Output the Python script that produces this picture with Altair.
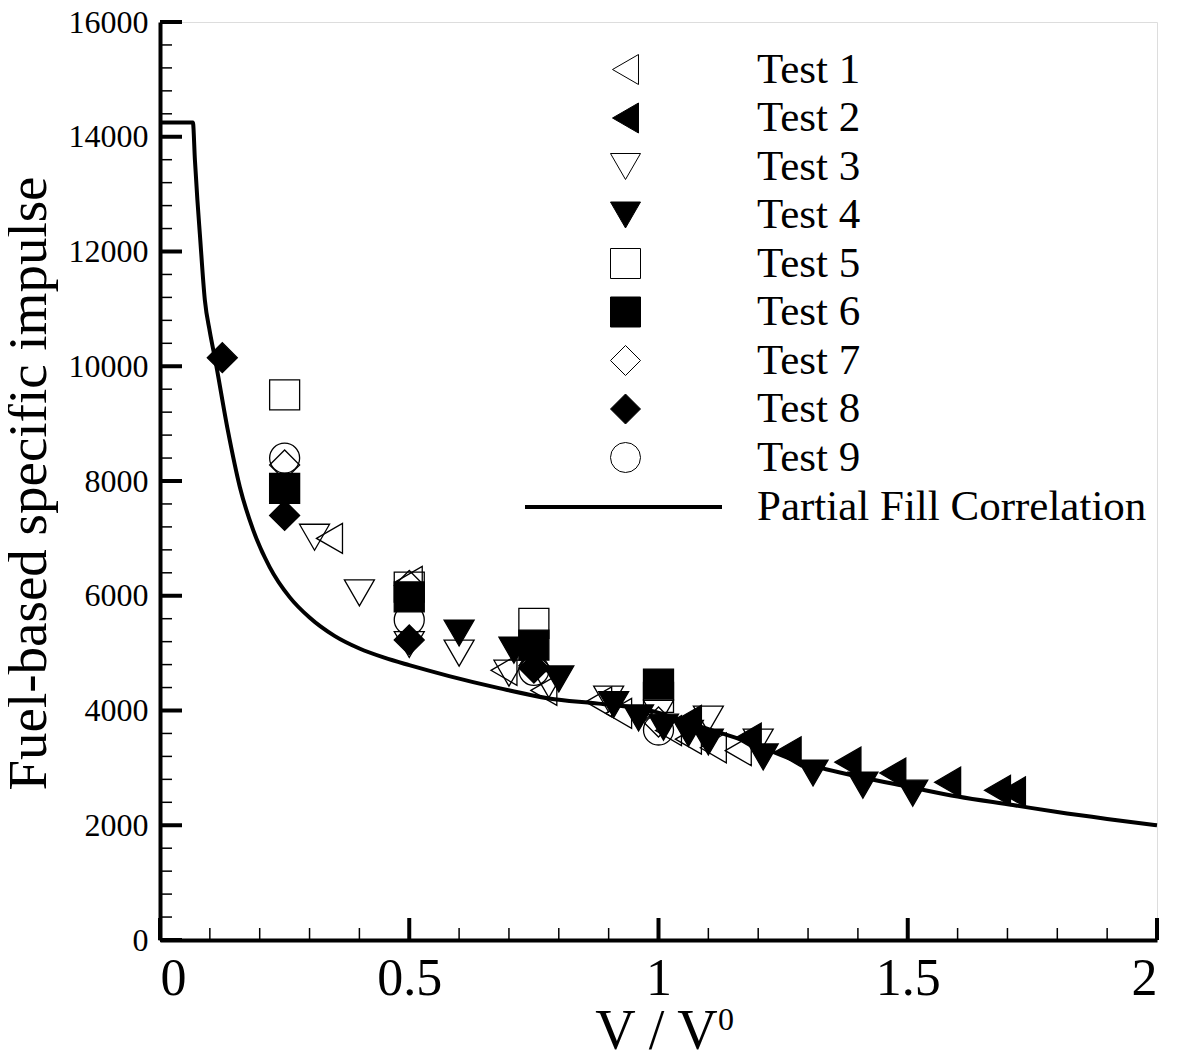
import altair as alt
import pandas as pd

FONT = "Liberation Serif"

tests = ["Test 1", "Test 2", "Test 3", "Test 4", "Test 5", "Test 6", "Test 7", "Test 8", "Test 9"]
shapes = ["triangle-left", "triangle-left", "triangle-down", "triangle-down",
          "square", "square", "diamond", "diamond", "circle"]
fills = ["transparent", "black", "transparent", "black", "transparent",
         "black", "transparent", "black", "transparent"]
strokes = ["black"] * 9
sizes = [900, 900, 1000, 1000, 560, 560, 1150, 1150, 1000]

test1_x = [0.34, 0.50, 0.69, 0.77, 0.88, 0.92, 1.02, 1.06, 1.11, 1.16]
test1_y = [7000, 6250, 4700, 4350, 4150, 3950, 3650, 3500, 3350, 3300]
test2_x = [1.06, 1.18, 1.26, 1.38, 1.47, 1.58, 1.68, 1.71]
test2_y = [3830, 3520, 3280, 3100, 2910, 2750, 2610, 2580]
test3_x = [0.31, 0.40, 0.50, 0.60, 0.70, 0.78, 0.90, 1.00, 1.10, 1.20]
test3_y = [7020, 6050, 5150, 5000, 4650, 4450, 4200, 3950, 3850, 3450]
test4_x = [0.60, 0.71, 0.80, 0.91, 0.96, 1.01, 1.06, 1.10, 1.21, 1.31, 1.41, 1.51]
test4_y = [5350, 5050, 4550, 4100, 3870, 3710, 3600, 3450, 3190, 2910, 2700, 2560]
test5_x = [0.25, 0.50, 0.75, 1.00]
test5_y = [9500, 6150, 5520, 4230]
test6_x = [0.25, 0.50, 0.75, 1.00]
test6_y = [7870, 5980, 5140, 4460]
test7_x = [0.25, 0.50, 0.75, 1.00]
test7_y = [8280, 6180, 4780, 3800]
test8_x = [0.125, 0.25, 0.50, 0.75]
test8_y = [10150, 7400, 5230, 4740]
test9_x = [0.25, 0.50, 0.75, 1.00]
test9_y = [8400, 5580, 4700, 3660]

curve_x = [0.0, 0.066, 0.07, 0.075, 0.08, 0.09, 0.10, 0.11, 0.136, 0.16, 0.187, 0.22,
           0.26, 0.30, 0.35, 0.40, 0.45, 0.50, 0.58, 0.68, 0.78, 0.88, 0.98, 1.08, 1.18,
           1.284, 1.40, 1.504, 1.60, 1.711, 1.80, 1.90, 2.0]
curve_y = [14250, 14250, 13600, 12900, 12300, 11150, 10600, 10150, 8885, 7900, 7143, 6500,
           5976, 5620, 5300, 5080, 4920, 4790, 4600, 4390, 4210, 4120, 4007, 3730, 3450,
           3100, 2850, 2666, 2500, 2352, 2230, 2110, 2000]
line_label = "Partial Fill Correlation"

y_major = list(range(0, 16001, 2000))
y_minor = [v for v in range(0, 16001, 400) if v % 2000 != 0]
x_major = [0, 0.5, 1, 1.5, 2]
x_minor = [i / 10 for i in range(21) if i % 5 != 0]

xs = [test1_x, test2_x, test3_x, test4_x, test5_x, test6_x, test7_x, test8_x, test9_x]
ys = [test1_y, test2_y, test3_y, test4_y, test5_y, test6_y, test7_y, test8_y, test9_y]
rows = []
for name, xv, yv in zip(tests, xs, ys):
    for a, b in zip(xv, yv):
        rows.append({"x": a, "y": b, "test": name})
pts = pd.DataFrame(rows)
curve = pd.DataFrame({"x": curve_x, "y": curve_y})

x_scale = alt.Scale(domain=[0, 2], nice=False, zero=False)
y_scale = alt.Scale(domain=[0, 16000], nice=False)

x_axis = alt.Axis(values=x_major, format="~g", ticks=False, grid=False,
                  domainWidth=4, domainColor="black",
                  labelFont=FONT, labelFontSize=52, labelColor="black", labelPadding=13,
                  title="V / V", titleFont=FONT, titleFontSize=56, titleFontWeight="normal",
                  titleColor="black", titleX=496, titleY=108, titleBaseline="alphabetic",
                  titleAlign="center")
y_axis = alt.Axis(values=y_major, format="d", ticks=False, grid=False,
                  domainWidth=4, domainColor="black",
                  labelFont=FONT, labelFontSize=32, labelColor="black", labelPadding=12,
                  title="Fuel-based specific impulse", titleFont=FONT, titleFontSize=55,
                  titleFontWeight="normal", titleColor="black", titleAngle=270,
                  titleX=-115, titleY=461, titleAlign="center", titleBaseline="alphabetic")

X = alt.X("x:Q", scale=x_scale, axis=x_axis)
Y = alt.Y("y:Q", scale=y_scale, axis=y_axis)

legend = alt.Legend(orient="none", legendX=444, legendY=26, title=None,
                    labelFont=FONT, labelFontSize=43, labelColor="black",
                    symbolStrokeWidth=1, labelOffset=110, rowPadding=4.5,
                    padding=0, labelLimit=0)

line = alt.Chart(curve).mark_line(color="black", strokeWidth=4, interpolate="monotone").encode(x=X, y=Y)

points = alt.Chart(pts).mark_point(filled=True, strokeWidth=1.3, opacity=1).encode(
    x=X, y=Y,
    shape=alt.Shape("test:N", scale=alt.Scale(domain=tests, range=shapes), legend=legend),
    fill=alt.Fill("test:N", scale=alt.Scale(domain=tests, range=fills), legend=legend),
    stroke=alt.Stroke("test:N", scale=alt.Scale(domain=tests, range=strokes), legend=legend),
    size=alt.Size("test:N", scale=alt.Scale(domain=tests, range=sizes), legend=legend),
)

ymaj = alt.Chart(pd.DataFrame({"y": y_major})).mark_rule(color="black", strokeWidth=4).encode(
    y=Y, x=alt.value(0), x2=alt.value(22))
ymin = alt.Chart(pd.DataFrame({"y": y_minor})).mark_rule(color="black", strokeWidth=1.5).encode(
    y=Y, x=alt.value(0), x2=alt.value(12))
xmaj = alt.Chart(pd.DataFrame({"x": x_major})).mark_rule(color="black", strokeWidth=4).encode(
    x=X, y=alt.value(918), y2=alt.value(896))
xmin = alt.Chart(pd.DataFrame({"x": x_minor})).mark_rule(color="black", strokeWidth=1.5).encode(
    x=X, y=alt.value(918), y2=alt.value(906))

lab = pd.DataFrame({"label": [line_label]})
leg_line = alt.Chart(lab).mark_rule(color="black", strokeWidth=4).encode(
    x=alt.value(365), x2=alt.value(562), y=alt.value(485))
leg_text = alt.Chart(lab).mark_text(align="left", baseline="middle", font=FONT, fontSize=43,
                                    color="black").encode(
    x=alt.value(597), y=alt.value(485), text="label:N")

sup = pd.DataFrame({"s": ["0"]})
sup_text = alt.Chart(sup).mark_text(align="left", baseline="alphabetic", font=FONT, fontSize=32,
                                    color="black").encode(
    x=alt.value(558), y=alt.value(1008), text="s:N")

chart = alt.layer(line, points, ymaj, ymin, xmaj, xmin, leg_line, leg_text, sup_text).properties(
    width=997, height=918,
    autosize=alt.AutoSizeParams(type="none"),
    padding={"left": 152, "top": 14, "right": 13, "bottom": 121},
).configure_view(stroke=None).configure(background="white")

chart.save("out.html", embed_options={"renderer": "svg", "actions": False})
